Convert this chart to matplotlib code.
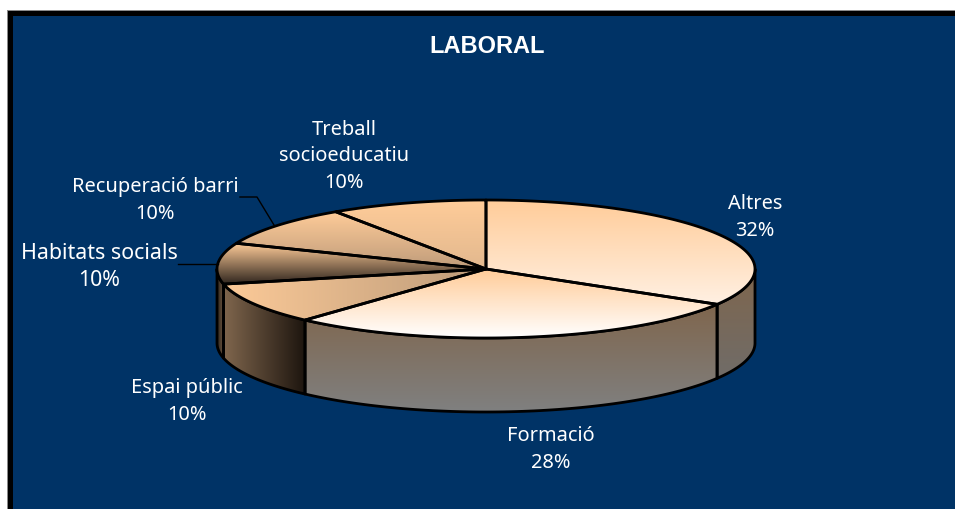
import numpy as np
import matplotlib
matplotlib.use("Agg")
import matplotlib.pyplot as plt
from matplotlib.patches import Polygon, Rectangle

title = "LABORAL"
categories = ["Altres", "Formació", "Espai públic", "Habitats socials", "Recuperació barri", "Treball\nsocioeducatiu"]
values = [32, 28, 10, 10, 10, 10]

CX, CY, RX, RY, DEPTH = 486, 270, 269, 69, 74
PEACH = (255, 204, 153)
BROWN = (127, 102, 77)

# colour pairs for each slice's top face and outer wall
top_styles = [
    (PEACH, (255, 240, 226), "v"),
    (PEACH, (255, 255, 255), "v"),
    ((252, 202, 152), (188, 155, 122), "h"),
    (PEACH, (48, 38, 30), "v"),
    (PEACH, (190, 155, 122), "v"),
    (PEACH, (226, 184, 142), "v"),
]
side_styles = [
    (BROWN, (112, 108, 104), "v"),
    (BROWN, (128, 128, 128), "v"),
    (BROWN, (28, 20, 14), "h"),
    ((45, 36, 28), (112, 90, 68), "h"),
]
label_pos = [(755, 217.5), (551, 449.5), (187, 401.5), (99, 267), (155, 200.5), (344, 156.5)]
label_sizes = [14.4, 14.4, 14.4, 15.4, 14.4, 14.4]

fig = plt.figure(figsize=(9.55, 5.10), dpi=100, facecolor="white")
ax = fig.add_axes([0, 0, 1, 1])
ax.set_xlim(0, 955)
ax.set_ylim(510, 0)
ax.axis("off")

ax.add_patch(Rectangle((7, 11), 960, 510, fc="#8a8a8a", ec="none", zorder=0))
ax.add_patch(Rectangle((8, 12), 960, 510, fc="black", ec="none", zorder=0.1))
ax.add_patch(Rectangle((13, 17), 960, 510, fc="#003366", ec="none", zorder=0.2))


def warp(a):
    # perspective distortion of the 3D view (clock angle, degrees)
    return a + 6.6 * np.sin(np.radians(a) / 2)


def rim(a, dy=0.0):
    r = np.radians(a)
    return np.column_stack([CX + RX * np.sin(r), CY - RY * np.cos(r) + dy])


def grad_fill(poly, c0, c1, mode, z):
    xmin, ymin = poly.min(axis=0)
    xmax, ymax = poly.max(axis=0)
    n = 128
    t = np.linspace(0, 1, n)
    t = t[:, None] if mode == "v" else t[None, :]
    c0 = np.array(c0) / 255
    c1 = np.array(c1) / 255
    img = c0[None, None, :] + t[..., None] * (c1 - c0)[None, None, :]
    im = ax.imshow(img, extent=(xmin, xmax, ymax, ymin), origin="upper",
                   aspect="auto", interpolation="bilinear", zorder=z)
    im.set_clip_path(Polygon(poly, closed=True, transform=ax.transData))


LW = 2.0
edges = np.concatenate([[0], np.cumsum(values)]) / sum(values) * 360
angles = [(warp(a), warp(b)) for a, b in zip(edges[:-1], edges[1:])]

# outer walls, only the front half of the disc shows
for i, (a, b) in enumerate(angles):
    lo, hi = max(a, 90), min(b, 270)
    if lo >= hi:
        continue
    arc = np.linspace(lo, hi, 80)
    poly = np.vstack([rim(arc), rim(arc[::-1], DEPTH)])
    c0, c1, mode = side_styles[i]
    grad_fill(poly, c0, c1, mode, 2)
    ax.add_patch(Polygon(poly, closed=True, fc="none", ec="black", lw=LW, joinstyle="round", zorder=3))

# top faces
for i, (a, b) in enumerate(angles):
    arc = np.linspace(a, b, 120)
    poly = np.vstack([[CX, CY], rim(arc)])
    c0, c1, mode = top_styles[i]
    grad_fill(poly, c0, c1, mode, 4)
    ax.add_patch(Polygon(poly, closed=True, fc="none", ec="black", lw=LW, joinstyle="round", zorder=5))

# leader lines
ax.plot([240, 257, 274], [198, 198, 226], color="black", lw=1.0, zorder=6)
ax.plot([178, 218], [265, 265], color="black", lw=1.0, zorder=6)

for name, v, (x, y), fs in zip(categories, values, label_pos, label_sizes):
    ax.text(x, y, f"{name}\n{v}%", color="white", fontsize=fs, family="Noto Sans",
            ha="center", va="center", linespacing=1.42, zorder=7)

ax.text(487, 46.5, title, color="white", fontsize=17, fontweight="bold",
        family="Liberation Sans", ha="center", va="center", zorder=7)

fig.savefig("out.png", dpi=100, facecolor="white")
